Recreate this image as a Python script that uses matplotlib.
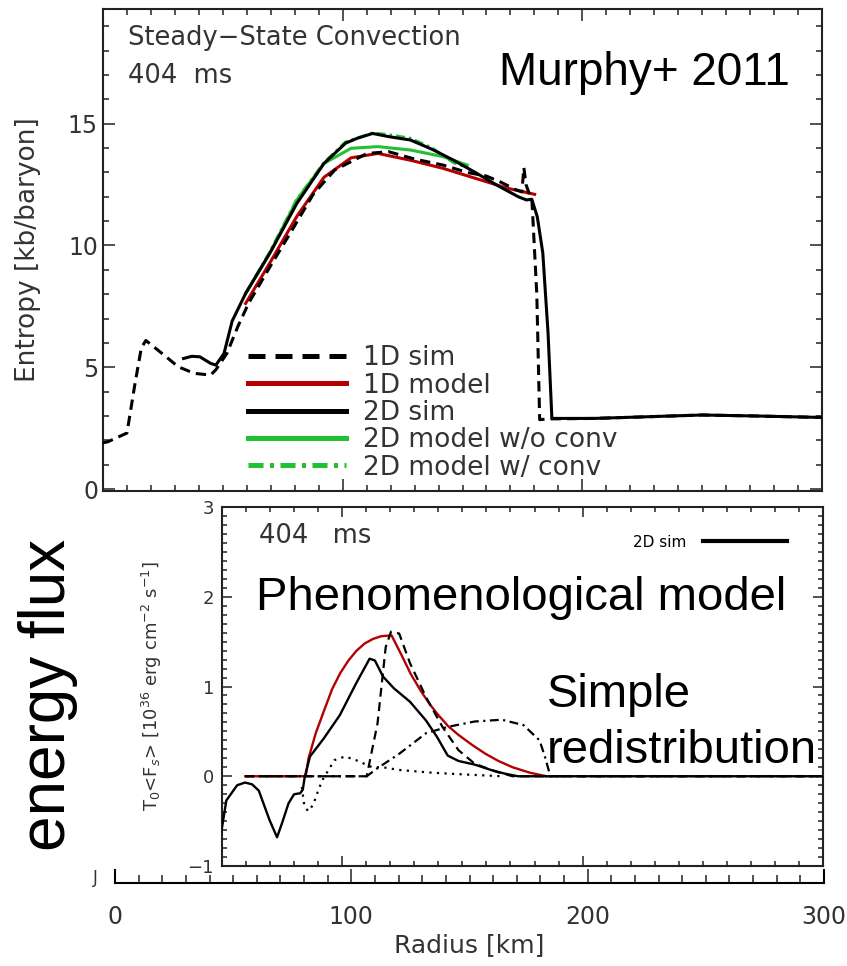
import matplotlib
matplotlib.use("Agg")
import matplotlib.pyplot as plt
from matplotlib.ticker import MultipleLocator

# Entropy profiles, 404 ms (radius km, entropy kb/baryon)
r_1d_sim = [0, 2, 10, 13.3, 16, 17.9, 24.6, 31.4, 38.1, 44.9, 47.1, 51.7, 56.2, 60.7, 69.7,
            78.7, 87.7, 96.7, 110.2, 119.2, 130, 142, 152, 160, 166, 172, 174.8, 175.6, 176.5,
            179, 181, 182.2, 186, 205, 228, 250, 272, 300]
s_1d_sim = [1.9, 1.94, 2.3, 4.3, 5.8, 6.1, 5.57, 5.02, 4.75, 4.68, 4.9, 5.57, 6.66, 7.62, 9.13,
            10.6, 12.1, 13.1, 13.78, 13.85, 13.55, 13.3, 13.0, 12.85, 12.6, 12.3, 12.2, 13.2, 12.5,
            11.8, 8.0, 2.85, 2.88, 2.9, 2.97, 3.04, 3.0, 2.94]

r_1d_model = [59.5, 69.7, 80.9, 92.2, 103.5, 114.7, 128.3, 141.8, 155.3, 168.8, 180.1]
s_1d_model = [7.62, 9.3, 11.2, 12.8, 13.6, 13.78, 13.5, 13.17, 12.76, 12.35, 12.1]

r_2d_sim = [33.6, 37, 40.4, 44.9, 47.1, 50.5, 53.9, 59.5, 69.7, 80.9, 92.2, 101.2, 106, 112.5,
            119.2, 128.3, 137.3, 146.3, 155.3, 164.3, 173.3, 176.7, 178.9, 181.2, 183.5, 185.7,
            187.3, 204.9, 227.4, 249.9, 272.4, 300]
s_2d_sim = [5.36, 5.45, 5.43, 5.16, 5.09, 5.57, 6.9, 8.03, 9.7, 11.73, 13.37, 14.2, 14.4, 14.6,
            14.47, 14.33, 13.95, 13.5, 13.0, 12.48, 12.0, 11.87, 11.9, 11.18, 9.7, 6.4,
            2.9, 2.9, 2.97, 3.04, 3.0, 2.94]

r_2d_noconv = [59.5, 69.7, 80.9, 92.2, 103.5, 114.7, 128.3, 141.8, 152]
s_2d_noconv = [8.03, 9.7, 11.87, 13.37, 13.99, 14.06, 13.92, 13.65, 13.3]

r_2d_conv = [59.5, 69.7, 80.9, 92.2, 101.2, 112.5, 119.2, 128.3, 137.3, 146.3, 152]
s_2d_conv = [8.03, 9.75, 11.9, 13.4, 14.25, 14.62, 14.55, 14.4, 14.0, 13.4, 13.2]

# Energy flux panel (radius km, 1e36 erg cm^-2 s^-1)
f_r_sim = [49.6, 51.8, 56.3, 59.6, 62.5, 65.3, 69.8, 72.9, 75.0, 77.7, 80.0, 82.5, 83.6, 84.4,
           86.6, 92.3, 99.0, 105.7, 111.4, 113.6, 117.0, 121.5, 128.2, 134.9, 139.4, 143.9,
           148.4, 155.1, 161.9, 167.5, 173.1, 300]
f_v_sim = [-0.64, -0.27, -0.10, -0.07, -0.09, -0.16, -0.49, -0.68, -0.52, -0.30, -0.20, -0.19,
           -0.15, -0.01, 0.22, 0.42, 0.68, 1.03, 1.31, 1.29, 1.11, 0.98, 0.83, 0.62, 0.44, 0.23,
           0.17, 0.13, 0.07, 0.03, 0.0, 0.0]

f_r_model = [59.7, 84.8, 86.0, 89.0, 92.3, 95.8, 99.2, 102.6, 106.0, 109.4, 112.8, 116.2,
             120.5, 124.5, 128.5, 132.7, 136.5, 139.4, 144.0, 148.4, 154.0, 159.6, 165.0,
             170.9, 178.0, 185.0]
f_v_model = [0, 0, 0.20, 0.48, 0.72, 0.97, 1.15, 1.29, 1.40, 1.48, 1.53, 1.56,
             1.57, 1.36, 1.14, 0.95, 0.80, 0.70, 0.56, 0.46, 0.35, 0.25, 0.17,
             0.10, 0.04, 0.0]

f_r_1d = [59.7, 110.2, 114.7, 118.1, 120.3, 123.7, 128.2, 134.9, 141.7, 148.4, 155.1, 164.1,
          170.9, 300]
f_v_1d = [0, 0, 0.59, 1.44, 1.61, 1.59, 1.26, 0.88, 0.55, 0.29, 0.14, 0.05, 0, 0]

f_r_conv = [59.7, 110.2, 114.7, 123.7, 134.9, 143.9, 155.1, 166.4, 175.4, 182.1, 184.3,
            186.6, 300]
f_v_conv = [0, 0, 0.09, 0.25, 0.48, 0.55, 0.61, 0.63, 0.57, 0.40, 0.22, 0, 0]

f_r_dot = [83.2, 84.2, 85.8, 87.9, 89.6, 91.7, 96.8, 101.2, 105.7, 112.5, 117.0, 123.7,
           137.2, 150.7, 166.4]
f_v_dot = [-0.12, -0.32, -0.39, -0.32, -0.19, -0.045, 0.18, 0.22, 0.18, 0.10, 0.10, 0.07,
           0.04, 0.02, 0.0]

radius_ticks = [0, 100, 200, 300]
entropy_ticks = [0, 5, 10, 15]
flux_ticks = [-1, 0, 1, 2, 3]

RED = "#b40000"
GREEN = "#22c035"
GREY = "#333333"
ARIAL = "Liberation Sans"

plt.rcParams["font.family"] = ["DejaVu Sans"]

W, H = 847, 966
fig = plt.figure(figsize=(W / 100, H / 100), dpi=100)


def box(left, top, right, bottom):
    return [left / W, 1 - bottom / H, (right - left) / W, (bottom - top) / H]


def idl_style(ax, majlen, minlen):
    ax.tick_params(which="both", direction="in", top=True, right=True,
                   width=1.1, color="#222222", labelcolor=GREY)
    ax.tick_params(which="major", length=majlen)
    ax.tick_params(which="minor", length=minlen)
    for sp in ax.spines.values():
        sp.set_linewidth(1.5)
        sp.set_color("#222222")


# bottom strip with the radius axis (from the second figure)
ax3 = fig.add_axes(box(115, 870, 824, 883))
ax3.set_xlim(0, 300)
ax3.set_xticks(radius_ticks)
ax3.xaxis.set_minor_locator(MultipleLocator(10))
ax3.set_yticks([])
ax3.spines["top"].set_visible(False)
ax3.tick_params(which="both", direction="in", width=1.1, color="#222222",
                labelcolor=GREY, labelsize=17, pad=16)
ax3.tick_params(which="major", length=10)
ax3.tick_params(which="minor", length=6)
for sp in ax3.spines.values():
    sp.set_linewidth(1.5)
ax3.set_xlabel("Radius [km]", fontsize=18, color=GREY)
ax3.xaxis.set_label_coords(0.5, -4.77)
ax3.xaxis.label.set_va("center")

# top panel: entropy
ax1 = fig.add_axes(box(103, 9, 822, 491))
ax1.set_xlim(0, 300)
ax1.set_ylim(-0.08, 19.71)
ax1.set_xticks(radius_ticks)
ax1.xaxis.set_minor_locator(MultipleLocator(10))
ax1.set_yticks(entropy_ticks)
ax1.yaxis.set_minor_locator(MultipleLocator(1))
idl_style(ax1, 8.6, 4.3)
ax1.tick_params(axis="x", labelbottom=False)
ax1.tick_params(axis="y", labelsize=17, pad=3.6)

l1, = ax1.plot(r_1d_sim, s_1d_sim, color="black", lw=2.2, zorder=5, label="1D sim")
l1.set_dashes((3.4, 2.0))
ax1.plot(r_1d_model, s_1d_model, color=RED, lw=2.2, zorder=4, label="1D model")
ax1.plot(r_2d_sim, s_2d_sim, color="black", lw=2.2, zorder=6, label="2D sim")
ax1.plot(r_2d_noconv, s_2d_noconv, color=GREEN, lw=2.2, zorder=3,
         label="2D model w/o conv")
l5, = ax1.plot(r_2d_conv, s_2d_conv, color=GREEN, lw=2.2, zorder=3,
               label="2D model w/ conv")
l5.set_dashes((3.0, 1.3, 0.8, 1.3))

leg = ax1.legend(loc="center left", bbox_to_anchor=(0.2017, 0.162), frameon=False,
                 fontsize=19, labelcolor=GREY, handlelength=3.7, handletextpad=0.65,
                 labelspacing=0.05, borderpad=0, borderaxespad=0)
for ln in leg.get_lines():
    ln.set_linewidth(3.6)

ax1.set_ylabel("Entropy [kb/baryon]", fontsize=19, color=GREY)
ax1.yaxis.set_label_coords((28 - 103) / 719, 0.5)
ax1.yaxis.label.set_va("center")

ax1.text(0.0348, 0.925, "Steady\u2212State Convection", transform=ax1.transAxes,
         fontsize=18.5, color=GREY, va="baseline")
ax1.text(0.0348, 0.8465, "404  ms", transform=ax1.transAxes,
         fontsize=18.5, color=GREY, va="baseline")
ax1.text(0.9555, 0.842, "Murphy+ 2011", transform=ax1.transAxes, ha="right",
         va="baseline", fontsize=33, family=ARIAL)

# lower panel: energy flux
ax2 = fig.add_axes(box(222, 507, 823, 866))
ax2.set_xlim(50, 300)
ax2.set_ylim(-1, 3)
ax2.set_xticks([100, 200, 300])
ax2.xaxis.set_minor_locator(MultipleLocator(10))
ax2.set_yticks(flux_ticks)
ax2.yaxis.set_minor_locator(MultipleLocator(0.1))
idl_style(ax2, 7, 3.6)
ax2.tick_params(axis="x", labelbottom=False)
ax2.tick_params(axis="y", labelsize=13, pad=5.8)

ax2.plot(f_r_model, f_v_model, color=RED, lw=1.7, zorder=3)
ax2.plot(f_r_1d, f_v_1d, color="black", lw=1.6, ls=(0, (4, 2.5)), zorder=4)
ax2.plot(f_r_conv, f_v_conv, color="black", lw=1.6, ls=(0, (4, 2, 1, 2)), zorder=4)
ax2.plot(f_r_dot, f_v_dot, color="black", lw=1.6, ls=(0, (1, 2.4)), zorder=4)
ax2.plot(f_r_sim, f_v_sim, color="black", lw=1.7, zorder=5, label="2D sim")

leg2 = ax2.legend(loc="center right", bbox_to_anchor=(0.94, 0.9025), frameon=False,
                  fontsize=11, markerfirst=False, handlelength=5.5, handletextpad=1.05,
                  borderpad=0, borderaxespad=0)
for ln in leg2.get_lines():
    ln.set_linewidth(3.0)

ax2.set_ylabel(r"T$_0$<F$_s$> [10$^{36}$ erg cm$^{-2}$ s$^{-1}$]", fontsize=13, color=GREY)
ax2.yaxis.set_label_coords(-0.1165, 0.501)
ax2.yaxis.label.set_va("center")

ax2.text(0.0616, 0.8997, "404   ms", transform=ax2.transAxes, fontsize=18.5,
         color=GREY, va="baseline")
ax2.text(0.0566, 0.713, "Phenomenological model", transform=ax2.transAxes,
         va="baseline", fontsize=34, family=ARIAL)
ax2.text(0.541, 0.443, "Simple", transform=ax2.transAxes, va="baseline",
         fontsize=34, family=ARIAL)
ax2.text(0.541, 0.287, "redistribution", transform=ax2.transAxes, va="baseline",
         fontsize=34, family=ARIAL)

fig.text(48 / W, 1 - 695 / H, "energy flux", rotation=90, ha="center", va="center",
         fontsize=46, family=ARIAL)
fig.text(95 / W, 1 - 878 / H, "J", ha="center", va="center", fontsize=12, color=GREY)

fig.savefig("out.png", dpi=100)
